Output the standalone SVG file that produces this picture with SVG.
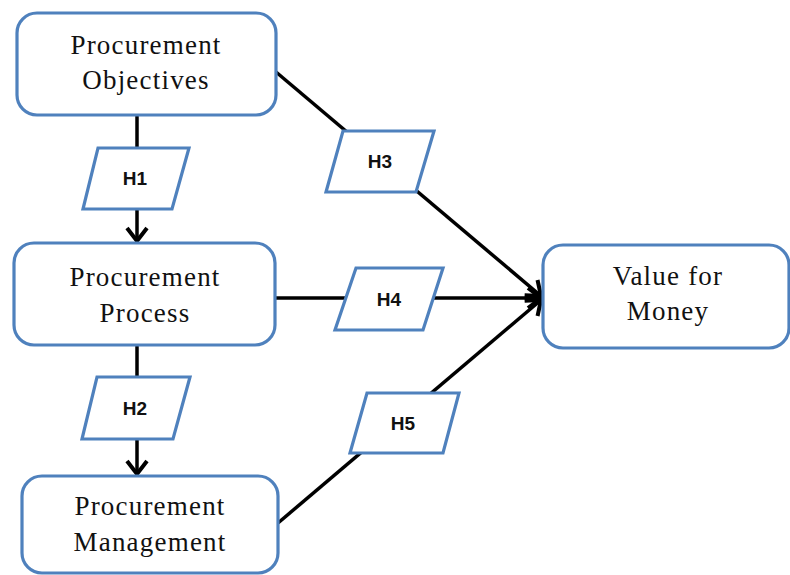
<svg xmlns="http://www.w3.org/2000/svg" width="790" height="575" viewBox="0 0 790 575">
<style>
.box{fill:#fff;stroke:#4f81bd;stroke-width:3.2}
.hyp{fill:#fff;stroke:#4f81bd;stroke-width:3.2}
.lbl{font-family:"Liberation Serif","Times New Roman",serif;font-size:27px;fill:#111;text-anchor:middle;letter-spacing:1.2px}
.h{font-family:"Liberation Sans",Arial,sans-serif;font-size:19px;font-weight:bold;fill:#111;text-anchor:middle}
.con{stroke:#000;stroke-width:3.5;fill:none}
</style>
<defs>
<marker id="arr" markerUnits="userSpaceOnUse" markerWidth="18" markerHeight="24" refX="15" refY="12" orient="auto">
<path d="M2,2 L15,12 L2,22" fill="none" stroke="#000" stroke-width="4"/>
</marker>
</defs>
<rect width="790" height="575" fill="#fff"/>
<g id="connectors">
<line class="con" x1="137" y1="115" x2="137" y2="241" marker-end="url(#arr)"/>
<line class="con" x1="137" y1="345" x2="137" y2="474" marker-end="url(#arr)"/>
<line class="con" x1="276" y1="72" x2="541" y2="296" marker-end="url(#arr)"/>
<line class="con" x1="275" y1="298" x2="541" y2="298" marker-end="url(#arr)"/>
<line class="con" x1="278" y1="523" x2="541" y2="300" marker-end="url(#arr)"/>
</g>
<g id="objectives">
<rect class="box" x="17" y="13" width="259" height="102" rx="20"/>
<text class="lbl" x="146" y="54">Procurement</text>
<text class="lbl" x="146" y="89">Objectives</text>
</g>
<g id="process">
<rect class="box" x="14" y="243" width="261" height="102" rx="20"/>
<text class="lbl" x="145" y="286">Procurement</text>
<text class="lbl" x="145" y="322">Process</text>
</g>
<g id="management">
<rect class="box" x="22" y="476" width="256" height="97" rx="20"/>
<text class="lbl" x="150" y="515">Procurement</text>
<text class="lbl" x="150" y="551">Management</text>
</g>
<g id="value">
<rect class="box" x="543" y="245" width="246" height="103" rx="20"/>
<text class="lbl" x="668" y="285">Value for</text>
<text class="lbl" x="668" y="320">Money</text>
</g>
<g id="H1">
<polygon class="hyp" points="98,148 189,148 172,209 83,209"/>
<text class="h" x="135" y="185">H1</text>
</g>
<g id="H2">
<polygon class="hyp" points="97,377 190,377 173,439 82,439"/>
<text class="h" x="135" y="415">H2</text>
</g>
<g id="H3">
<polygon class="hyp" points="343,131 434,131 416,192 326,192"/>
<text class="h" x="380" y="168">H3</text>
</g>
<g id="H4">
<polygon class="hyp" points="356,268 443,268 423,330 335,330"/>
<text class="h" x="389" y="306">H4</text>
</g>
<g id="H5">
<polygon class="hyp" points="367,393 459,393 443,453 350,453"/>
<text class="h" x="403" y="430">H5</text>
</g>
</svg>
